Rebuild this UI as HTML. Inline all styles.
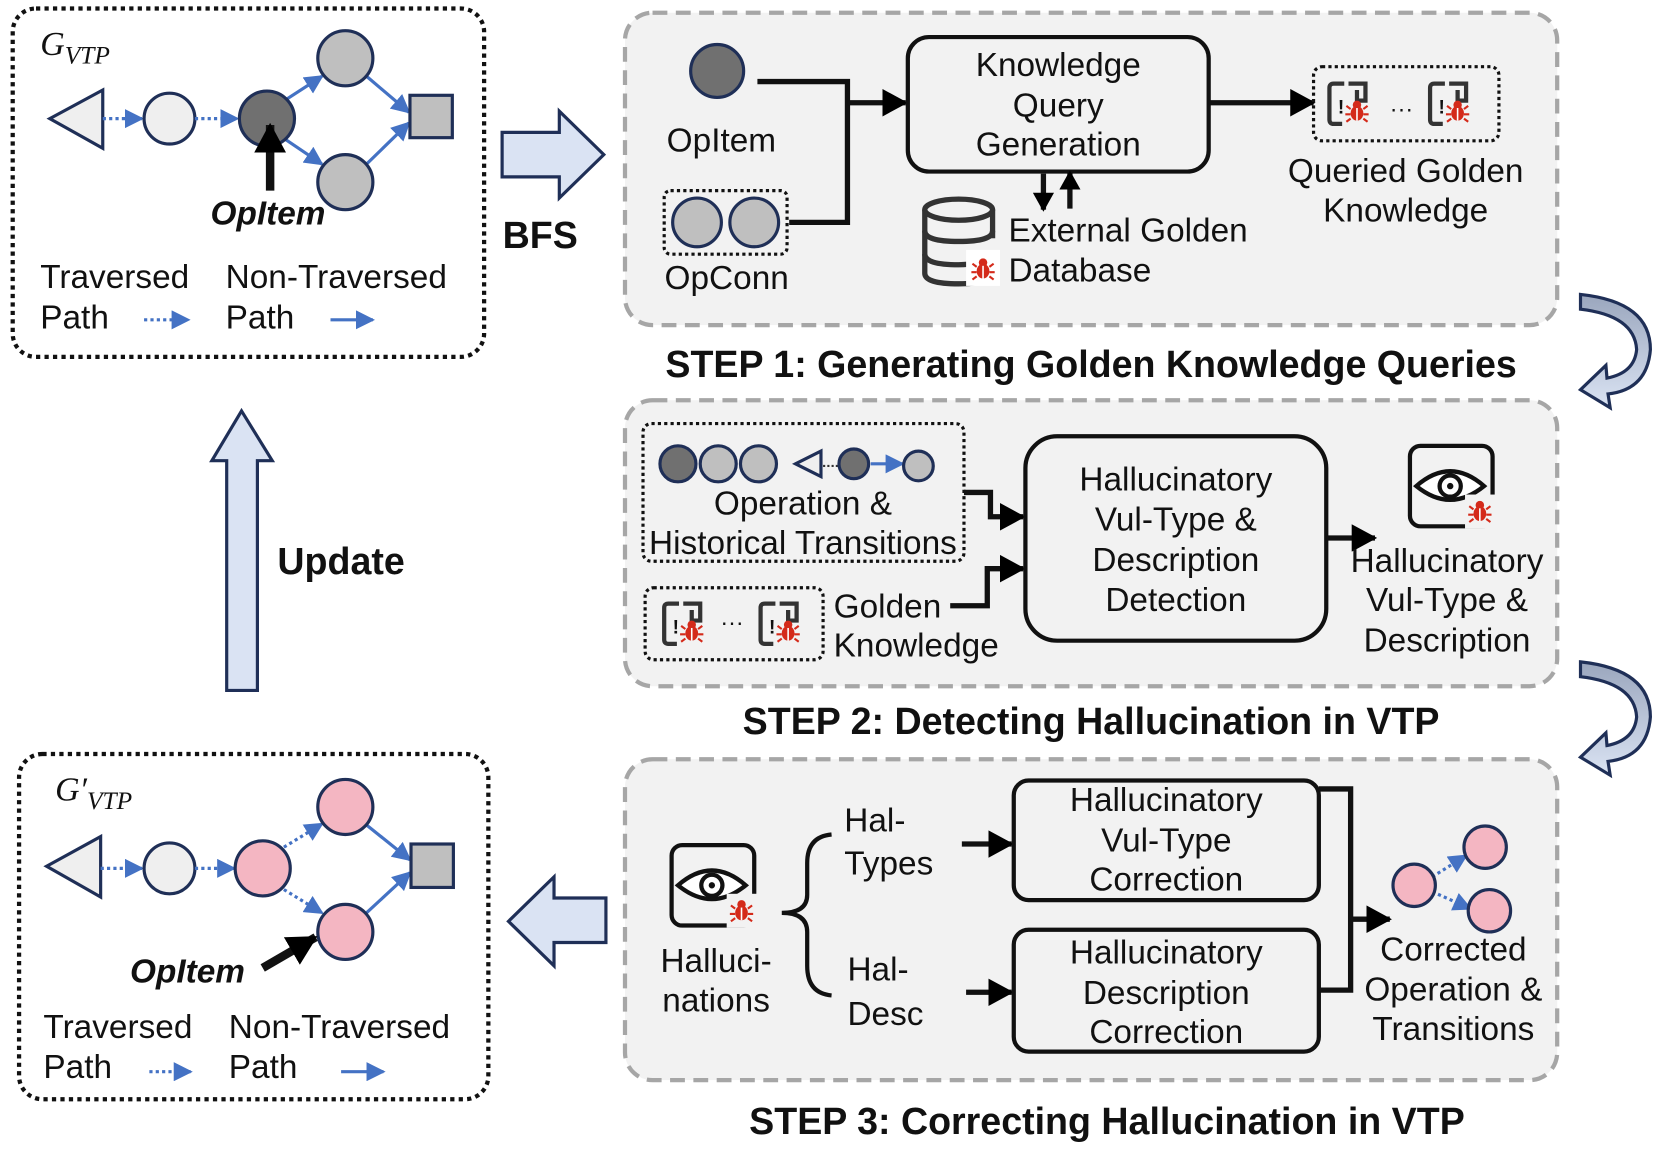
<!DOCTYPE html>
<html><head><meta charset="utf-8"><style>
html,body{margin:0;padding:0;background:#fff;}
svg{display:block;}
text{font-family:"Liberation Sans",Arial,sans-serif;font-size:31.5px;fill:#111;}
.c{text-anchor:middle;}
.b{font-weight:bold;}
.h{font-weight:bold;font-size:35.5px;}
</style></head><body>
<svg width="1661" height="1149" viewBox="0 0 1568 1085" preserveAspectRatio="none" xmlns="http://www.w3.org/2000/svg">
<defs>
<marker id="bk" markerWidth="24" markerHeight="26" refX="22" refY="13" orient="auto" markerUnits="userSpaceOnUse"><path d="M0,0 L24,13 L0,26 z" fill="#000"/></marker>
<marker id="bkb" markerWidth="28" markerHeight="30" refX="26" refY="15" orient="auto" markerUnits="userSpaceOnUse"><path d="M0,0 L28,15 L0,30 z" fill="#000"/></marker>
<marker id="bks" markerWidth="18" markerHeight="20" refX="16" refY="10" orient="auto" markerUnits="userSpaceOnUse"><path d="M0,0 L18,10 L0,20 z" fill="#000"/></marker>
<marker id="bl" markerWidth="18" markerHeight="18" refX="16" refY="9" orient="auto" markerUnits="userSpaceOnUse"><path d="M0,0 L18,9 L0,18 z" fill="#4472c4"/></marker>
<linearGradient id="cg" x1="0" y1="0" x2="0" y2="1"><stop offset="0" stop-color="#9aa6bd"/><stop offset="1" stop-color="#dae3f3"/></linearGradient>
<g id="bug"><ellipse cx="0" cy="2" rx="6" ry="7" fill="#d42a1a"/><circle cx="0" cy="-6" r="4" fill="#d42a1a"/><path d="M-6,-2 L-10,-5 M6,-2 L10,-5 M-6,3 L-11,3 M6,3 L11,3 M-6,7 L-10,10 M6,7 L10,10" stroke="#d42a1a" stroke-width="2"/><line x1="0" y1="-3" x2="0" y2="9" stroke="#fff" stroke-width="1.5"/></g>
<g id="doc"><path d="M14,2 L4,2 Q0,2 0,6 L0,36 Q0,40 4,40 L12,40" fill="none" stroke="#333" stroke-width="4"/><path d="M18,2 L34,2 L34,18 L26,18 L26,8" fill="none" stroke="#333" stroke-width="4"/><text x="8" y="30" style="font-size:18px;font-weight:bold">!</text><use href="#bug" x="26" y="28"/></g>
<g id="eye"><rect x="0" y="0" width="78" height="76" rx="10" fill="none" stroke="#111" stroke-width="4"/><path d="M6,38 Q38,10 70,38 Q38,64 6,38 z" fill="#fff" stroke="#111" stroke-width="4"/><circle cx="38" cy="38" r="10" fill="none" stroke="#111" stroke-width="4"/><circle cx="38" cy="38" r="3" fill="#111"/><rect x="52" y="46" width="30" height="32" fill="#f2f2f2"/><use href="#bug" x="66" y="62"/></g>
</defs>

<rect x="12" y="8" width="445" height="329" rx="22" fill="none" stroke="#111" stroke-width="4" stroke-dasharray="4,4"/>
<text x="38" y="52" style="font-family:'Liberation Serif',serif;font-style:italic;font-size:32px">G<tspan style="font-size:24px" dy="8">VTP</tspan></text>
<polygon points="47,112 97,85 97,140" fill="#efefef" stroke="#1f2f57" stroke-width="3"/>
<line x1="97" y1="112" x2="134" y2="112" stroke="#4472c4" stroke-width="3" stroke-dasharray="3,3" marker-end="url(#bl)"/>
<circle cx="160" cy="112" r="24" fill="#efefef" stroke="#1f2f57" stroke-width="3"/>
<line x1="184" y1="112" x2="224" y2="112" stroke="#4472c4" stroke-width="3" stroke-dasharray="3,3" marker-end="url(#bl)"/>
<line x1="270" y1="94" x2="304" y2="72" stroke="#4472c4" stroke-width="3" marker-end="url(#bl)"/>
<line x1="270" y1="132" x2="304" y2="155" stroke="#4472c4" stroke-width="3" marker-end="url(#bl)"/>
<line x1="346" y1="72" x2="386" y2="106" stroke="#4472c4" stroke-width="3" marker-end="url(#bl)"/>
<line x1="346" y1="155" x2="386" y2="116" stroke="#4472c4" stroke-width="3" marker-end="url(#bl)"/>
<circle cx="252" cy="112" r="26" fill="#707070" stroke="#1f2f57" stroke-width="3"/>
<circle cx="326" cy="55" r="26" fill="#bfbfbf" stroke="#1f2f57" stroke-width="3"/>
<circle cx="326" cy="172" r="26" fill="#bfbfbf" stroke="#1f2f57" stroke-width="3"/>
<rect x="387" y="90" width="40" height="40" fill="#bfbfbf" stroke="#1f2f57" stroke-width="3"/>
<line x1="255" y1="180" x2="255" y2="118" stroke="#111" stroke-width="8" marker-end="url(#bkb)"/>
<text x="253" y="212" class="c b" style="font-style:italic">OpItem</text>
<text x="38" y="272">Traversed</text><text x="38" y="310">Path</text>
<line x1="136" y1="302" x2="178" y2="302" stroke="#4472c4" stroke-width="3" stroke-dasharray="3,3" marker-end="url(#bl)"/>
<text x="213" y="272">Non-Traversed</text><text x="213" y="310">Path</text>
<line x1="312" y1="302" x2="352" y2="302" stroke="#4472c4" stroke-width="3" marker-end="url(#bl)"/>

<polygon points="474,125 528,125 528,105 570,146 528,187 528,167 474,167" fill="#dae3f3" stroke="#1f2f57" stroke-width="3"/>
<text x="510" y="234" class="c h">BFS</text>

<polygon points="214,652 214,435 200,435 228,388 257,435 243,435 243,652" fill="#dae3f3" stroke="#1f2f57" stroke-width="3"/>
<text x="322" y="542" class="c h">Update</text>

<rect x="18" y="712" width="443" height="326" rx="22" fill="none" stroke="#111" stroke-width="4" stroke-dasharray="4,4"/>
<text x="52" y="756" style="font-family:'Liberation Serif',serif;font-style:italic;font-size:32px">G′<tspan style="font-size:24px" dy="8">VTP</tspan></text>
<polygon points="44,818 95,790 95,847" fill="#efefef" stroke="#1f2f57" stroke-width="3"/>
<line x1="95" y1="820" x2="134" y2="820" stroke="#4472c4" stroke-width="3" stroke-dasharray="3,3" marker-end="url(#bl)"/>
<circle cx="160" cy="820" r="24" fill="#efefef" stroke="#1f2f57" stroke-width="3"/>
<line x1="184" y1="820" x2="221" y2="820" stroke="#4472c4" stroke-width="3" stroke-dasharray="3,3" marker-end="url(#bl)"/>
<line x1="268" y1="800" x2="304" y2="778" stroke="#4472c4" stroke-width="3" stroke-dasharray="3,3" marker-end="url(#bl)"/>
<line x1="268" y1="840" x2="304" y2="862" stroke="#4472c4" stroke-width="3" stroke-dasharray="3,3" marker-end="url(#bl)"/>
<line x1="346" y1="779" x2="387" y2="812" stroke="#4472c4" stroke-width="3" marker-end="url(#bl)"/>
<line x1="346" y1="862" x2="387" y2="824" stroke="#4472c4" stroke-width="3" marker-end="url(#bl)"/>
<circle cx="248" cy="820" r="26" fill="#f4b6c2" stroke="#1f2f57" stroke-width="3"/>
<circle cx="326" cy="762" r="26" fill="#f4b6c2" stroke="#1f2f57" stroke-width="3"/>
<circle cx="326" cy="880" r="26" fill="#f4b6c2" stroke="#1f2f57" stroke-width="3"/>
<rect x="388" y="797" width="40" height="41" fill="#bfbfbf" stroke="#1f2f57" stroke-width="3"/>
<line x1="248" y1="914" x2="298" y2="885" stroke="#111" stroke-width="8" marker-end="url(#bkb)"/>
<text x="177" y="928" class="c b" style="font-style:italic">OpItem</text>
<text x="41" y="980">Traversed</text><text x="41" y="1018">Path</text>
<line x1="141" y1="1012" x2="180" y2="1012" stroke="#4472c4" stroke-width="3" stroke-dasharray="3,3" marker-end="url(#bl)"/>
<text x="216" y="980">Non-Traversed</text><text x="216" y="1018">Path</text>
<line x1="322" y1="1012" x2="362" y2="1012" stroke="#4472c4" stroke-width="3" marker-end="url(#bl)"/>

<polygon points="572,848 523,848 523,828 480,870 523,912 523,890 572,890" fill="#dae3f3" stroke="#1f2f57" stroke-width="3"/>

<g fill="url(#cg)" stroke="#1f2f57" stroke-width="3">
<path d="M1492,278 Q1558,285 1558,330 Q1555,368 1518,372 L1520,385 L1492,368 L1516,345 L1517,357 Q1543,352 1545,330 Q1543,298 1492,292 z"/>
<path d="M1492,625 Q1558,632 1558,677 Q1555,715 1518,719 L1520,732 L1492,715 L1516,692 L1517,704 Q1543,699 1545,677 Q1543,645 1492,639 z"/>
</g>

<rect x="590" y="12" width="880" height="295" rx="26" fill="#f2f2f2" stroke="#a6a6a6" stroke-width="4" stroke-dasharray="14,8"/>
<text x="1030" y="356" class="c h">STEP 1: Generating Golden Knowledge Queries</text>
<circle cx="677" cy="67" r="25" fill="#707070" stroke="#1f2f57" stroke-width="3"/>
<text x="681" y="143" class="c">OpItem</text>
<rect x="627" y="180" width="116" height="60" rx="6" fill="none" stroke="#111" stroke-width="3" stroke-dasharray="3,3"/>
<circle cx="658" cy="210" r="23" fill="#bfbfbf" stroke="#1f2f57" stroke-width="3"/>
<circle cx="712" cy="210" r="23" fill="#bfbfbf" stroke="#1f2f57" stroke-width="3"/>
<text x="686" y="273" class="c">OpConn</text>
<polyline points="715,77 800,77 800,210 745,210" fill="none" stroke="#111" stroke-width="5"/>
<line x1="800" y1="97" x2="855" y2="97" stroke="#111" stroke-width="5" marker-end="url(#bk)"/>
<rect x="857" y="35" width="284" height="127" rx="20" fill="none" stroke="#111" stroke-width="4"/>
<text x="999" y="72" class="c">Knowledge</text><text x="999" y="110" class="c">Query</text><text x="999" y="147" class="c">Generation</text>
<line x1="1141" y1="97" x2="1240" y2="97" stroke="#111" stroke-width="5" marker-end="url(#bk)"/>
<line x1="985" y1="164" x2="985" y2="198" stroke="#111" stroke-width="5" marker-end="url(#bks)"/>
<line x1="1010" y1="197" x2="1010" y2="163" stroke="#111" stroke-width="5" marker-end="url(#bks)"/>
<g fill="none" stroke="#333" stroke-width="5">
<ellipse cx="905" cy="198" rx="32" ry="10"/>
<path d="M873,198 L873,258 Q873,268 905,268 Q920,268 925,266"/><path d="M937,198 L937,225"/>
<path d="M873,218 Q873,228 905,228 Q937,228 937,218"/>
<path d="M873,240 Q873,250 905,250 Q915,250 920,248"/>
</g>
<rect x="912" y="236" width="32" height="34" fill="#fff"/><use href="#bug" x="928" y="254"/>
<text x="952" y="228">External Golden</text><text x="952" y="266">Database</text>
<rect x="1240" y="63" width="175" height="70" rx="8" fill="none" stroke="#111" stroke-width="3" stroke-dasharray="3,3"/>
<use href="#doc" x="1255" y="77"/><text x="1312" y="110" style="font-size:22px">···</text><use href="#doc" x="1350" y="77"/>
<text x="1327" y="172" class="c">Queried Golden</text><text x="1327" y="209" class="c">Knowledge</text>

<rect x="590" y="378" width="880" height="270" rx="26" fill="#f2f2f2" stroke="#a6a6a6" stroke-width="4" stroke-dasharray="14,8"/>
<text x="1030" y="693" class="c h">STEP 2: Detecting Hallucination in VTP</text>
<rect x="607" y="400" width="303" height="130" rx="8" fill="none" stroke="#111" stroke-width="3" stroke-dasharray="3,3"/>
<circle cx="640" cy="438" r="17" fill="#707070" stroke="#1f2f57" stroke-width="3"/>
<circle cx="678" cy="438" r="17" fill="#bfbfbf" stroke="#1f2f57" stroke-width="3"/>
<circle cx="716" cy="438" r="17" fill="#bfbfbf" stroke="#1f2f57" stroke-width="3"/>
<polygon points="751,438 775,426 775,450" fill="#efefef" stroke="#1f2f57" stroke-width="3"/>
<line x1="777" y1="440" x2="792" y2="440" stroke="#333" stroke-width="2" stroke-dasharray="2,2"/>
<line x1="822" y1="438" x2="852" y2="438" stroke="#4472c4" stroke-width="3" marker-end="url(#bl)"/>
<circle cx="806" cy="438" r="14" fill="#707070" stroke="#1f2f57" stroke-width="3"/>
<circle cx="867" cy="440" r="14" fill="#bfbfbf" stroke="#1f2f57" stroke-width="3"/>
<text x="758" y="486" class="c">Operation &amp;</text><text x="758" y="523" class="c">Historical Transitions</text>
<rect x="609" y="555" width="168" height="68" rx="8" fill="none" stroke="#111" stroke-width="3" stroke-dasharray="3,3"/>
<use href="#doc" x="627" y="568"/><text x="680" y="595" style="font-size:22px">···</text><use href="#doc" x="718" y="568"/>
<text x="787" y="583">Golden</text><text x="787" y="620">Knowledge</text>
<polyline points="910,465 935,465 935,488 966,488" fill="none" stroke="#111" stroke-width="5" marker-end="url(#bk)"/>
<polyline points="897,572 932,572 932,537 966,537" fill="none" stroke="#111" stroke-width="5" marker-end="url(#bk)"/>
<rect x="968" y="412" width="284" height="193" rx="30" fill="none" stroke="#111" stroke-width="4"/>
<text x="1110" y="463" class="c">Hallucinatory</text><text x="1110" y="501" class="c">Vul-Type &amp;</text><text x="1110" y="539" class="c">Description</text><text x="1110" y="577" class="c">Detection</text>
<line x1="1252" y1="508" x2="1298" y2="508" stroke="#111" stroke-width="5" marker-end="url(#bk)"/>
<use href="#eye" x="1331" y="421"/>
<text x="1366" y="540" class="c">Hallucinatory</text><text x="1366" y="577" class="c">Vul-Type &amp;</text><text x="1366" y="615" class="c">Description</text>

<rect x="590" y="717" width="880" height="303" rx="26" fill="#f2f2f2" stroke="#a6a6a6" stroke-width="4" stroke-dasharray="14,8"/>
<text x="1045" y="1071" class="c h">STEP 3: Correcting Hallucination in VTP</text>
<use href="#eye" x="634" y="798"/>
<text x="676" y="918" class="c">Halluci-</text><text x="676" y="955" class="c">nations</text>
<path d="M785,788 Q762,790 762,815 L762,845 Q762,862 738,862 Q762,862 762,880 L762,912 Q762,938 785,940" fill="none" stroke="#111" stroke-width="4"/>
<text x="797" y="785">Hal-</text><text x="797" y="826">Types</text>
<text x="800" y="926">Hal-</text><text x="800" y="968">Desc</text>
<line x1="908" y1="797" x2="955" y2="797" stroke="#111" stroke-width="5" marker-end="url(#bk)"/>
<line x1="912" y1="937" x2="955" y2="937" stroke="#111" stroke-width="5" marker-end="url(#bk)"/>
<rect x="957" y="737" width="288" height="113" rx="14" fill="none" stroke="#111" stroke-width="4"/>
<text x="1101" y="766" class="c">Hallucinatory</text><text x="1101" y="804" class="c">Vul-Type</text><text x="1101" y="841" class="c">Correction</text>
<rect x="957" y="878" width="288" height="115" rx="14" fill="none" stroke="#111" stroke-width="4"/>
<text x="1101" y="910" class="c">Hallucinatory</text><text x="1101" y="948" class="c">Description</text><text x="1101" y="985" class="c">Correction</text>
<polyline points="1245,745 1275,745 1275,935 1245,935" fill="none" stroke="#111" stroke-width="5"/>
<line x1="1275" y1="868" x2="1312" y2="868" stroke="#111" stroke-width="5" marker-end="url(#bk)"/>
<line x1="1352" y1="828" x2="1384" y2="808" stroke="#4472c4" stroke-width="3" stroke-dasharray="3,3" marker-end="url(#bl)"/>
<line x1="1352" y1="842" x2="1388" y2="858" stroke="#4472c4" stroke-width="3" stroke-dasharray="3,3" marker-end="url(#bl)"/>
<circle cx="1335" cy="836" r="20" fill="#f4b6c2" stroke="#1f2f57" stroke-width="3"/>
<circle cx="1402" cy="800" r="20" fill="#f4b6c2" stroke="#1f2f57" stroke-width="3"/>
<circle cx="1406" cy="860" r="20" fill="#f4b6c2" stroke="#1f2f57" stroke-width="3"/>
<text x="1372" y="907" class="c">Corrected</text><text x="1372" y="945" class="c">Operation &amp;</text><text x="1372" y="982" class="c">Transitions</text>
</svg>
</body></html>
